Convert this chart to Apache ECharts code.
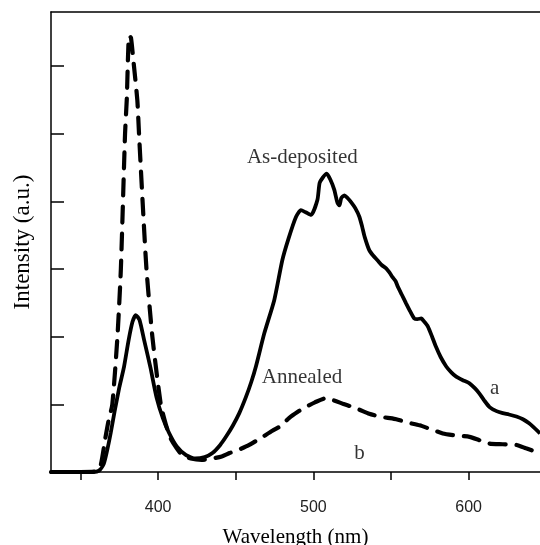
<!DOCTYPE html>
<html>
<head>
<meta charset="utf-8">
<script src="https://cdn.jsdelivr.net/npm/echarts@6/dist/echarts.min.js"></script>
<style>
    html, body { margin: 0; padding: 0; background: #fff; }
    #chart { width: 540px; height: 545px; }
</style>
</head>
<body>
<div id="chart"></div>
<script>
// curve a: as-deposited (solid)
const wlA = [331, 345, 358, 362, 365, 367, 369.5, 372, 375, 378, 381, 383.5, 385.6, 388, 391, 395, 399, 403, 407, 412, 418, 424, 430, 435, 440, 443.7, 448, 452.3, 456.6, 460, 463, 468.4, 474.8, 480, 484, 488.8, 492, 495, 498.5, 502.6, 504, 506, 508.6, 511, 513.5, 515.5, 516.8, 518, 520, 522, 524.3, 527, 529.7, 531.5, 533, 536, 538.5, 541.3, 544, 546.9, 549, 551, 553, 554.4, 557, 559.8, 562.5, 565, 567, 569.5, 571.5, 573.8, 576.5, 579, 582, 585.6, 589, 592, 596, 600.6, 604, 607, 610, 613.5, 618, 622, 626, 630.8, 635, 639, 642, 646]
const intA = [0, 0, 0, 0.02, 0.12, 0.3, 0.58, 0.9, 1.25, 1.55, 1.95, 2.22, 2.32, 2.25, 1.95, 1.55, 1.1, 0.8, 0.58, 0.38, 0.25, 0.2, 0.22, 0.28, 0.4, 0.52, 0.68, 0.87, 1.11, 1.33, 1.56, 2.05, 2.54, 3.13, 3.45, 3.77, 3.87, 3.84, 3.8, 4.02, 4.27, 4.35, 4.41, 4.32, 4.17, 3.98, 3.94, 4.05, 4.09, 4.05, 3.99, 3.9, 3.77, 3.62, 3.48, 3.28, 3.2, 3.13, 3.06, 3.01, 2.95, 2.88, 2.82, 2.74, 2.62, 2.49, 2.37, 2.27, 2.26, 2.27, 2.22, 2.15, 2.0, 1.85, 1.7, 1.56, 1.47, 1.41, 1.36, 1.31, 1.24, 1.16, 1.06, 0.96, 0.9, 0.87, 0.85, 0.82, 0.78, 0.72, 0.66, 0.57]

// curve b: annealed (dashed)
const wlB = [331, 350, 360, 363, 366, 368, 370.5, 373.8, 376, 378.7, 379.8, 381.3, 382.5, 384, 386.6, 387.7, 390, 392.5, 396.3, 401.7, 405, 408, 412, 415.5, 421, 428, 435, 441, 446, 452, 458.7, 466, 473.6, 479, 484.5, 490, 495, 501, 508, 513, 519, 524, 529.7, 536, 542.6, 548, 553.4, 561, 568.4, 576, 583.4, 592, 600.6, 607, 613.5, 622, 630.8, 637, 646]
const intB = [0, 0, 0.01, 0.1, 0.5, 0.75, 1.0, 2.0, 3.0, 5.0, 5.5, 6.45, 6.42, 6.1, 5.5, 5.0, 4.0, 3.0, 2.0, 1.0, 0.7, 0.5, 0.35, 0.25, 0.2, 0.18, 0.2, 0.23, 0.28, 0.33, 0.4, 0.5, 0.61, 0.68, 0.8, 0.89, 0.96, 1.03, 1.09, 1.06, 1.01, 0.97, 0.92, 0.86, 0.82, 0.8, 0.78, 0.73, 0.69, 0.63, 0.57, 0.54, 0.52, 0.47, 0.42, 0.41, 0.4, 0.35, 0.28]

// axis ticks
const xTicks = [350, 400, 450, 500, 550, 600]
const xLabels = [400, 500, 600]
const yTicks = [1, 2, 3, 4, 5, 6]

// annotations in data coordinates
const noteText = ['As-deposited', 'Annealed', 'a', 'b']
const noteX = [492.9, 492.7, 616.8, 529.7]
const noteY = [4.65, 1.4, 1.23, 0.28]

const serif = '"Liberation Serif", "Times New Roman", serif'

const chart = echarts.init(document.getElementById('chart'))
chart.setOption({
    animation: false,
    grid: { left: 51, top: 12, right: 0, bottom: 73, outerBoundsMode: 'none' },
    xAxis: [{
        type: 'value',
        min: 331,
        max: 646,
        name: 'Wavelength (nm)',
        nameLocation: 'middle',
        nameGap: 55,
        nameTextStyle: { fontFamily: serif, fontSize: 21, color: '#000' },
        axisLine: { lineStyle: { color: '#000', width: 1.5 } },
        axisTick: { customValues: xTicks, length: 8, lineStyle: { color: '#000', width: 1.5 } },
        axisLabel: { customValues: xLabels, margin: 28, fontFamily: '"Liberation Sans", Arial, sans-serif', fontSize: 16, color: '#222' },
        splitLine: { show: false }
    }, {
        type: 'value',
        position: 'top',
        min: 331,
        max: 646,
        axisLine: { show: true, lineStyle: { color: '#000', width: 1.5 } },
        axisTick: { show: false },
        axisLabel: { show: false },
        splitLine: { show: false }
    }],
    yAxis: {
        type: 'value',
        min: 0,
        max: 6.8,
        name: 'Intensity (a.u.)',
        nameLocation: 'middle',
        nameGap: 17,
        nameTextStyle: { fontFamily: serif, fontSize: 23, color: '#000' },
        axisLine: { show: true, lineStyle: { color: '#000', width: 1.5 } },
        axisTick: { show: true, inside: true, customValues: yTicks, length: 13, lineStyle: { color: '#000', width: 1.5 } },
        axisLabel: { show: false },
        splitLine: { show: false }
    },
    series: [{
        name: 'a',
        type: 'line',
        data: wlA.map((w, i) => [w, intA[i]]),
        showSymbol: false,
        smooth: 0.2,
        lineStyle: { color: '#000', width: 3.8 }
    }, {
        name: 'b',
        type: 'line',
        data: wlB.map((w, i) => [w, intB[i]]),
        showSymbol: false,
        smooth: 0.2,
        lineStyle: { color: '#000', width: 4.2, type: [16, 11], cap: 'round' }
    }, {
        type: 'scatter',
        symbolSize: 0,
        data: noteText.map((t, i) => ({ value: [noteX[i], noteY[i]], name: t })),
        label: {
            show: true,
            position: 'inside',
            formatter: p => p.name,
            fontFamily: serif,
            fontSize: 21,
            color: '#000'
        },
        silent: true
    }]
})
</script>
</body>
</html>
